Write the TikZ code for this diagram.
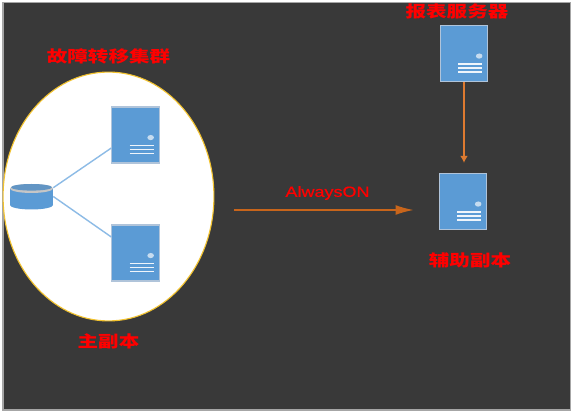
\documentclass[tikz,border=0pt]{standalone}
\usepackage{fontspec}
\newfontfamily\cjk[FakeStretch=1.28]{Noto Sans CJK SC}
\newfontfamily\latn[FakeStretch=1.22,FakeBold=0.6]{Liberation Sans}
\usetikzlibrary{positioning,shapes.geometric,arrows.meta}
\definecolor{bgdark}{HTML}{393939}
\definecolor{srvblue}{HTML}{5B9BD5}
\definecolor{srvedge}{HTML}{B0C4DA}
\definecolor{linkblue}{HTML}{8DBBE6}
\definecolor{arrorange}{HTML}{C8651B}
\definecolor{arrlight}{HTML}{DD7A30}
\definecolor{ringgold}{HTML}{F2C22E}
\newcommand{\pxu}{*0.025cm}
\newcommand{\srvbox}[2]{%
  \node[srv] (#1) at (#2) {};
  \fill[white!65!srvblue] ([xshift=-9\pxu,yshift=26\pxu]#1.south east) ellipse [x radius=3.3\pxu,y radius=2.6\pxu];
  \foreach \k in {0,1,2}
    \draw[white!90!srvblue,line width=0.85pt] ([xshift=-30\pxu,yshift={(18-\k*4)*0.025cm}]#1.south east) -- ([xshift=-6\pxu,yshift={(18-\k*4)*0.025cm}]#1.south east);
}
\begin{document}
\begin{tikzpicture}[x=0.025cm,y=-0.025cm,>=latex]
    \tikzset{
      srv/.style={rectangle,draw=srvedge,line width=0.8pt,fill=srvblue,minimum width=1.18cm,minimum height=1.4cm,inner sep=0pt},
      lab/.style={font=\cjk\bfseries\fontsize{11.4}{13}\selectfont,text=red,inner sep=0pt},
      lnk/.style={linkblue,line width=1pt},
      ar/.style={-{Latex[length=5pt,width=5.5pt]},arrlight,line width=1.1pt}}
    \useasboundingbox (0,0) rectangle (573,412);
    \fill[white] (0,0) rectangle (573,412);
    \fill[bgdark,draw=gray!70,line width=1.2pt] (3,2.5) rectangle (570.5,410);
    \node[ellipse,draw=ringgold,line width=0.8pt,fill=white,minimum width=5.27cm,minimum height=6.22cm,inner sep=0pt] (ring) at (108.5,196.5) {};
    \srvbox{m1}{135.5,135}
    \srvbox{m2}{135.5,253}
    \srvbox{rpt}{464,53.5}
    \srvbox{rep}{463,201.5}
    % database drum
    \fill[srvblue] (31.5,205) ellipse [x radius=21.5,y radius=4.5];
    \node[rectangle,fill=srvblue,minimum width=1.075cm,minimum height=0.425cm,inner sep=0pt] (db) at (31.5,196.5) {};
    \fill[gray!45] (31.5,188.5) ellipse [x radius=21.5,y radius=4.5];
    \fill[srvblue!80!gray] (31.5,187.3) ellipse [x radius=20.5,y radius=3.3];
    \draw[lnk] (db.north east) -- ([yshift=-13\pxu]m1.west);
    \draw[lnk] (db.east) -- ([yshift=16\pxu]m2.west);
    \draw[ar] (rpt.south) -- ([yshift=10\pxu]rep.north -| rpt.south);
    \coordinate (flowa) at (234,210);
    \coordinate (flowb) at (414,210);
    \draw[ar,-{Latex[length=13pt,width=7pt]},arrorange,line width=1.4pt] (flowa) -- (flowb);
    \node[font=\latn\fontsize{10.5}{12}\selectfont,text=red,inner sep=0pt] (aon) at (327.5,193) {AlwaysON};
    \node[lab] (tcl) at (108.5,56) {故障转移集群};
    \node[lab] (tpr) at (108.5,341.5) {主副本};
    \node[lab] (trp) at (457,11) {报表服务器};
    \node[lab] (tsc) at (470,260.5) {辅助副本};
  \end{tikzpicture}
\end{document}
